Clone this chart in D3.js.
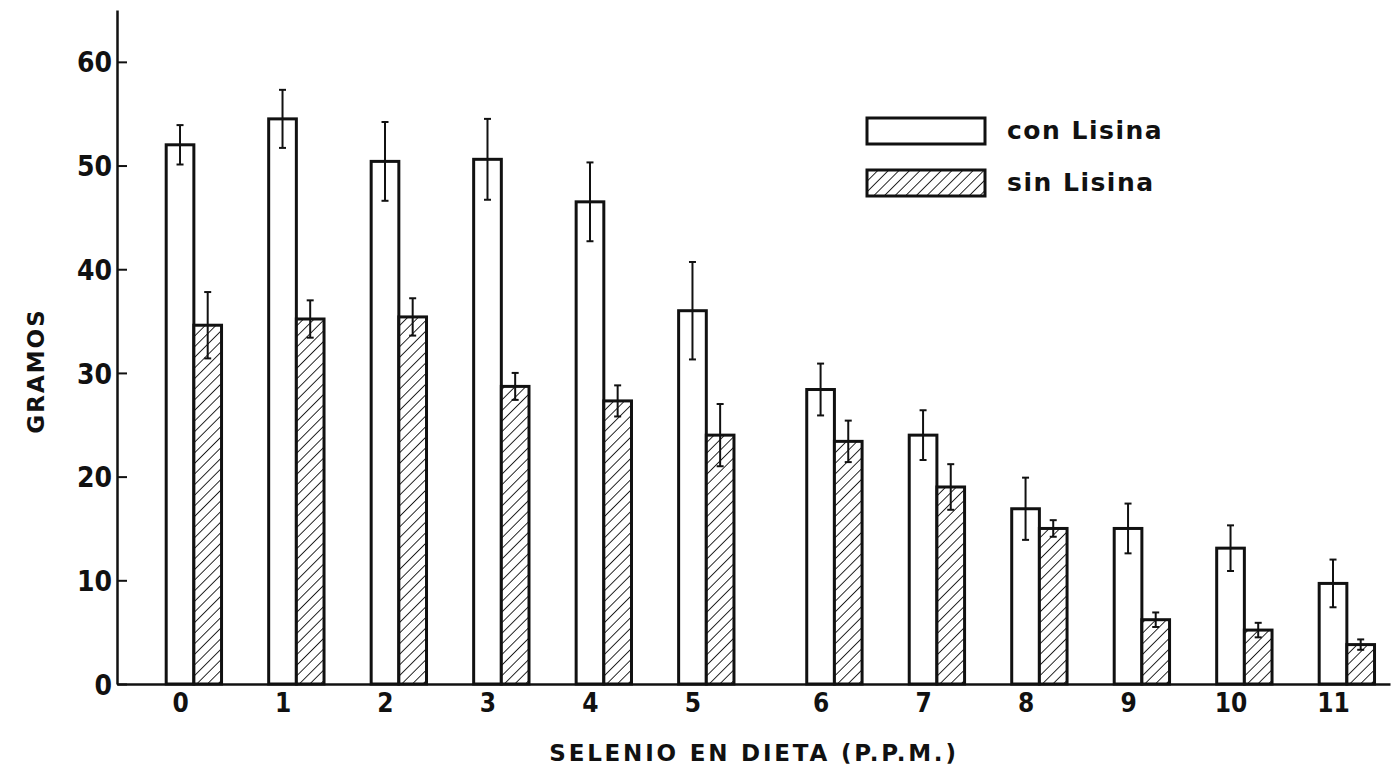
<!DOCTYPE html>
<html>
<head>
<meta charset="utf-8">
<script src="https://cdn.jsdelivr.net/npm/d3@7"></script>
<style>
  body { margin: 0; background: #fff; }
  svg { display: block; }
  .tick-label { font-family: "DejaVu Sans Condensed", "DejaVu Sans", sans-serif; font-weight: bold; fill: #111; }
  .title { font-family: "DejaVu Sans", sans-serif; font-weight: bold; fill: #111; }
</style>
</head>
<body>
<div class="viz"></div>
<script>
const width = 1394;
const height = 768;
const margin = { top: 10, right: 4, bottom: 84, left: 117 };

// selenio en dieta (p.p.m.)
const categories = ["0", "1", "2", "3", "4", "5", "6", "7", "8", "9", "10", "11"];
// the original leaves a wider gap between 5 and 6
const slots = [0, 1, 2, 3, 4, 5, 6.25, 7.25, 8.25, 9.25, 10.25, 11.25];

const conLisina = [52.0, 54.5, 50.4, 50.6, 46.5, 36.0, 28.4, 24.0, 16.9, 15.0, 13.1, 9.7];
const conLisinaErr = [1.9, 2.8, 3.8, 3.9, 3.8, 4.7, 2.5, 2.4, 3.0, 2.4, 2.2, 2.3];
const sinLisina = [34.6, 35.2, 35.4, 28.7, 27.3, 24.0, 23.4, 19.0, 15.0, 6.2, 5.2, 3.8];
const sinLisinaErr = [3.2, 1.8, 1.8, 1.3, 1.5, 3.0, 2.0, 2.2, 0.8, 0.7, 0.7, 0.5];

const yTicks = [0, 10, 20, 30, 40, 50, 60];
const seriesNames = ["con Lisina", "sin Lisina"];

const svg = d3
  .select(".viz")
  .append("svg")
  .attr("width", width)
  .attr("height", height);

// diagonal hatching for "sin Lisina"
const pattern = svg
  .append("defs")
  .append("pattern")
  .attr("id", "hatch")
  .attr("patternUnits", "userSpaceOnUse")
  .attr("width", 7.5)
  .attr("height", 7.5)
  .attr("patternTransform", "rotate(45)");
pattern.append("rect").attr("width", 7.5).attr("height", 7.5).attr("fill", "#fff");
pattern
  .append("line")
  .attr("x1", 0)
  .attr("y1", 0)
  .attr("x2", 0)
  .attr("y2", 7.5)
  .attr("stroke", "#111")
  .attr("stroke-width", 1.8);

const xScale = d3
  .scaleLinear()
  .domain([-0.615, 11.806])
  .range([margin.left, width - margin.right]);

const yScale = d3
  .scaleLinear()
  .domain([0, 65])
  .range([height - margin.bottom, margin.top]);

const barW = (xScale(1) - xScale(0)) * 0.27;

const data = categories.map((c, i) => ({
  cat: c,
  slot: slots[i],
  values: [
    { series: 0, value: conLisina[i], err: conLisinaErr[i] },
    { series: 1, value: sinLisina[i], err: sinLisinaErr[i] },
  ],
}));

const groups = svg
  .append("g")
  .attr("class", "bars")
  .selectAll("g")
  .data(data)
  .join("g")
  .attr("transform", (d) => `translate(${xScale(d.slot)},0)`);

const items = groups
  .selectAll("g.item")
  .data((d) => d.values)
  .join("g")
  .attr("class", "item");

items
  .append("rect")
  .attr("x", (d) => -barW / 2 + d.series * barW)
  .attr("y", (d) => yScale(d.value))
  .attr("width", barW)
  .attr("height", (d) => yScale(0) - yScale(d.value))
  .attr("fill", (d) => (d.series ? "url(#hatch)" : "#fff"))
  .attr("stroke", "#111")
  .attr("stroke-width", 3);

// error bars
const cap = 3.5;
items.each(function (d) {
  const g = d3.select(this);
  const cx = d.series * barW;
  const top = yScale(d.value + d.err);
  const bot = yScale(d.value - d.err);
  g.append("line").attr("x1", cx).attr("x2", cx).attr("y1", top).attr("y2", bot);
  g.append("line").attr("x1", cx - cap).attr("x2", cx + cap).attr("y1", top).attr("y2", top);
  g.append("line").attr("x1", cx - cap).attr("x2", cx + cap).attr("y1", bot).attr("y2", bot);
});
items.selectAll("line").attr("stroke", "#111").attr("stroke-width", 2);

// axes
const yAxis = svg
  .append("g")
  .attr("transform", `translate(${margin.left},0)`)
  .call(d3.axisLeft(yScale).tickValues(yTicks).tickSizeInner(-10).tickSizeOuter(0).tickPadding(5));

const xAxis = svg
  .append("g")
  .attr("transform", `translate(0,${yScale(0)})`)
  .call(
    d3
      .axisBottom(xScale)
      .tickValues(slots)
      .tickFormat((d, i) => categories[i])
      .tickSize(0)
      .tickPadding(10)
  );

[xAxis, yAxis].forEach((ax) => {
  ax.select(".domain").attr("stroke", "#111").attr("stroke-width", 2.5);
  ax.selectAll(".tick line").attr("stroke", "#111").attr("stroke-width", 2);
  ax.selectAll(".tick text").attr("class", "tick-label").attr("font-family", null).attr("fill", null);
});
xAxis.selectAll(".tick text").attr("font-size", 26);
yAxis.selectAll(".tick text").attr("font-size", 28).attr("dy", "0.36em");

// axis titles
svg
  .append("text")
  .attr("class", "title")
  .attr("transform", `translate(44,${(yScale(0) + yScale(65)) / 2 + 24}) rotate(-90)`)
  .attr("text-anchor", "middle")
  .attr("font-size", 23)
  .attr("letter-spacing", 2)
  .text("GRAMOS");

svg
  .append("text")
  .attr("class", "title")
  .attr("x", 754)
  .attr("y", 761)
  .attr("text-anchor", "middle")
  .attr("font-size", 23)
  .attr("letter-spacing", 2.8)
  .text("SELENIO EN DIETA (P.P.M.)");

// legend
const legend = svg
  .append("g")
  .attr("class", "legend")
  .attr("transform", "translate(867,118)")
  .selectAll("g")
  .data(seriesNames)
  .join("g")
  .attr("transform", (d, i) => `translate(0,${i * 52})`);

legend
  .append("rect")
  .attr("width", 118)
  .attr("height", 26)
  .attr("fill", (d, i) => (i ? "url(#hatch)" : "#fff"))
  .attr("stroke", "#111")
  .attr("stroke-width", 3);

legend
  .append("text")
  .attr("class", "title")
  .attr("x", 140)
  .attr("y", 21)
  .attr("font-size", 25)
  .attr("letter-spacing", 1.5)
  .text((d) => d);
</script>
</body>
</html>
